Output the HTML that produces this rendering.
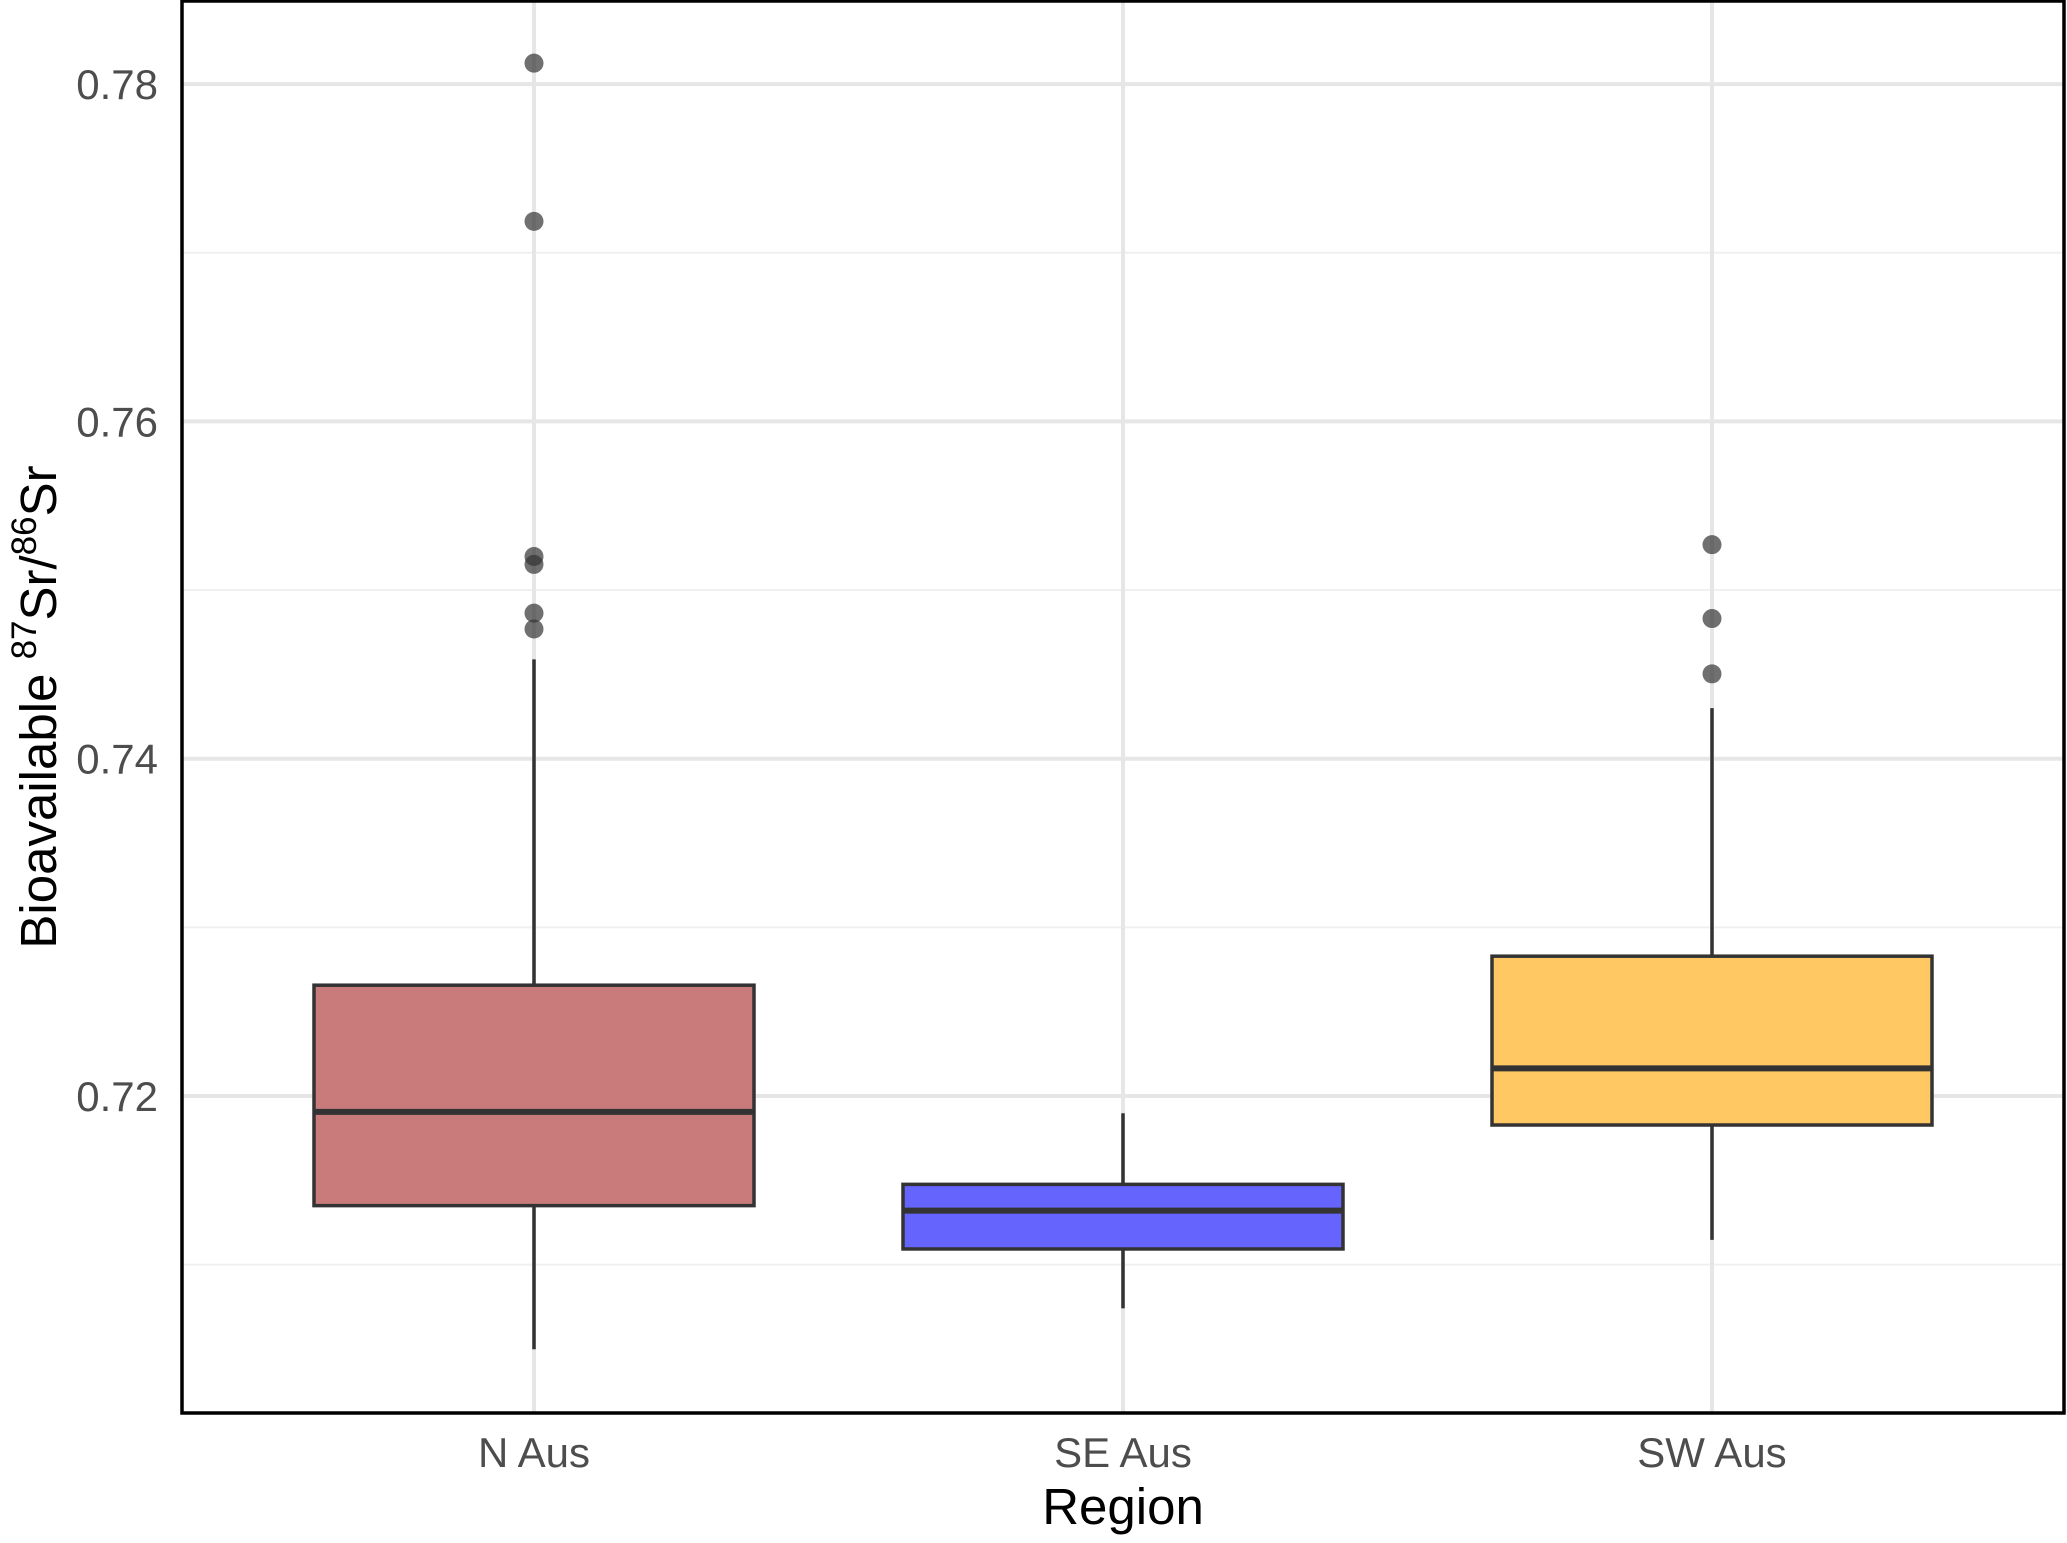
<!DOCTYPE html>
<html><head><meta charset="utf-8"><style>
body{margin:0;background:#fff;}
svg text{font-family:"Liberation Sans",sans-serif;}
</style></head><body>
<svg id="chart" width="2067" height="1538" viewBox="0 0 2067 1538">
</svg>
<script>
const categories=["N Aus","SE Aus","SW Aus"];
const whiskerLow=[0.70498,0.70741,0.71147];
const q1=[0.7135,0.71093,0.71828];
const median=[0.71906,0.7132,0.72164];
const q3=[0.72657,0.71476,0.72829];
const whiskerHigh=[0.74589,0.71898,0.743];
const outliers=[[0.78124,0.77186,0.75199,0.75152,0.74863,0.74769],[],[0.75269,0.74831,0.74503]];
const fills=["#c97b7c","#6565fe","#ffc863"];
const yTicks=[0.72,0.74,0.76,0.78];
const yMinor=[0.71,0.73,0.75,0.77];

const NS="http://www.w3.org/2000/svg";
const svg=document.getElementById('chart');
const P={l:182,t:1,r:2064,b:1413};
function y(v){return 1096-(v-0.72)/0.02*337.3;}
function x(i){return 534+i*589;}
const halfW=220;
function mk(tag,attrs,parent){const e=document.createElementNS(NS,tag);for(const k in attrs)e.setAttribute(k,attrs[k]);(parent||svg).appendChild(e);return e;}

const grid=mk('g',{});


yMinor.forEach(v=>{const l=mk('line',{x1:P.l,x2:P.r,y1:y(v),y2:y(v),stroke:'#f0f0f0','stroke-width':2},grid);

});
yTicks.forEach(v=>{const l=mk('line',{x1:P.l,x2:P.r,y1:y(v),y2:y(v),stroke:'#e6e6e6','stroke-width':4},grid);

});
categories.forEach((c,i)=>{const l=mk('line',{x1:x(i),x2:x(i),y1:P.t,y2:P.b,stroke:'#e6e6e6','stroke-width':4},grid);

});

categories.forEach((c,i)=>{
 const g=mk('g',{});
 
 
 mk('line',{x1:x(i),x2:x(i),y1:y(whiskerLow[i]),y2:y(q1[i]),stroke:'#333','stroke-width':3.5},g);
 mk('line',{x1:x(i),x2:x(i),y1:y(q3[i]),y2:y(whiskerHigh[i]),stroke:'#333','stroke-width':3.5},g);
 mk('rect',{x:x(i)-halfW,y:y(q3[i]),width:2*halfW,height:y(q1[i])-y(q3[i]),fill:fills[i],stroke:'#333','stroke-width':3.5},g);
 mk('line',{x1:x(i)-halfW,x2:x(i)+halfW,y1:y(median[i]),y2:y(median[i]),stroke:'#333','stroke-width':6},g);
 outliers[i].forEach(v=>{const p=mk('circle',{cx:x(i),cy:y(v),r:9.5,fill:'#333','fill-opacity':0.7},g);
 
 });
 const t=mk('text',{x:x(i),y:1467,'text-anchor':'middle','font-size':42,fill:'#4d4d4d'});
 t.textContent=c;
 
 
});
yTicks.forEach(v=>{const t=mk('text',{x:158,y:y(v)+15,'text-anchor':'end','font-size':42,fill:'#4d4d4d'});
t.textContent=v.toFixed(2);

});

const frame=mk('rect',{x:P.l,y:P.t,width:P.r-P.l,height:P.b-P.t,fill:'none',stroke:'#000','stroke-width':3.5});



const xt=mk('text',{x:1123,y:1524,'text-anchor':'middle','font-size':51,fill:'#000'});
xt.textContent='Region';



const yt=mk('text',{transform:'translate(56,707) rotate(-90)','text-anchor':'middle','font-size':51,fill:'#000'});


yt.innerHTML='Bioavailable <tspan font-size="35" dy="-20">87</tspan><tspan dy="20">Sr/</tspan><tspan font-size="35" dy="-20">86</tspan><tspan dy="20">Sr</tspan>';
</script>
</body></html>
